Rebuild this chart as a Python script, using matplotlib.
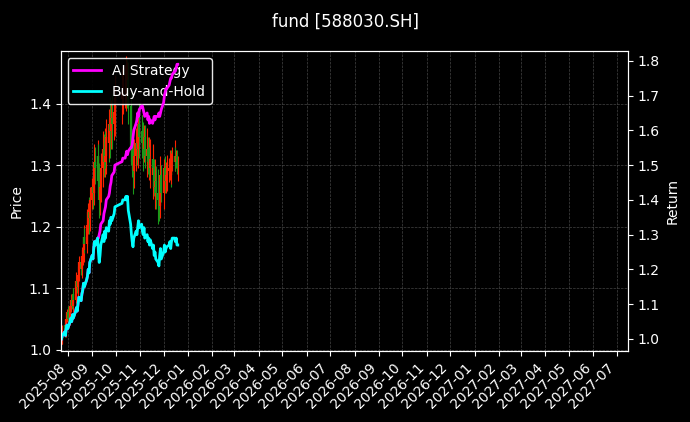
import numpy as np
import pandas as pd
import matplotlib
matplotlib.use("Agg")
import matplotlib.pyplot as plt
import matplotlib.dates as mdates

plt.style.use("dark_background")

# ----------------------------
# Data
# ----------------------------
days = pd.bdate_range("2025-07-24", "2025-12-19")
days = days[~((days >= "2025-10-01") & (days <= "2025-10-08"))]

buy_hold = [
    1.00, 1.01, 1.02, 1.01, 1.03, 1.04, 1.03, 1.05, 1.06, 1.05, 1.07, 1.06, 1.08,
    1.09, 1.08, 1.10, 1.12, 1.11, 1.13, 1.14, 1.16, 1.15, 1.17, 1.18,
    1.20, 1.19, 1.22, 1.24, 1.23, 1.26, 1.28, 1.27, 1.29,
    1.25, 1.22, 1.24,
    1.27, 1.30, 1.28, 1.31, 1.29,
    1.32, 1.31, 1.34, 1.33, 1.35, 1.34, 1.36, 1.38, 1.39,
    1.40, 1.40, 1.41, 1.40, 1.41,
    1.37, 1.33, 1.30, 1.28, 1.265,
    1.29, 1.31, 1.30, 1.32, 1.34, 1.32, 1.33,
    1.31, 1.30, 1.32, 1.29, 1.30, 1.28, 1.29, 1.27, 1.285,
    1.26, 1.27, 1.24, 1.25, 1.23, 1.22, 1.21,
    1.24, 1.26, 1.23, 1.25, 1.27, 1.25, 1.26, 1.265,
    1.27, 1.28, 1.26, 1.28, 1.29, 1.29,
    1.28, 1.29, 1.27, 1.27,
]

ai_strategy = buy_hold[:33] + [
    1.29, 1.30, 1.31, 1.33, 1.34, 1.36, 1.37, 1.38, 1.40, 1.41, 1.42, 1.44,
    1.45, 1.47, 1.48, 1.50, 1.51,
    1.52, 1.52, 1.53, 1.54, 1.53, 1.54, 1.55, 1.55, 1.56, 1.58, 1.60,
    1.62, 1.63, 1.65, 1.64, 1.66, 1.67, 1.67,
    1.66, 1.65, 1.64, 1.65, 1.63, 1.64, 1.62, 1.63, 1.62,
    1.63, 1.64, 1.63, 1.64, 1.64, 1.65, 1.64, 1.65, 1.66, 1.68,
    1.70, 1.71, 1.72, 1.72, 1.73, 1.74, 1.75, 1.75, 1.76, 1.77, 1.77, 1.78, 1.79, 1.79,
]

# daily high-low range (wick length, price units)
day_range = [
    0.02, 0.03, 0.02, 0.03, 0.04, 0.02, 0.03, 0.04, 0.03, 0.02, 0.04, 0.03, 0.03,
    0.04, 0.03, 0.05, 0.04, 0.03, 0.05, 0.04, 0.06, 0.04, 0.05, 0.06,
    0.05, 0.06, 0.07, 0.05, 0.06, 0.07, 0.08, 0.06, 0.07,
    0.08, 0.09, 0.07, 0.08, 0.09, 0.07, 0.08, 0.06, 0.09, 0.07, 0.08, 0.10,
    0.08, 0.09, 0.07, 0.10, 0.09, 0.08, 0.07, 0.09, 0.08, 0.07, 0.10,
    0.09, 0.08, 0.07, 0.09, 0.08, 0.07, 0.06, 0.08, 0.07, 0.09, 0.06,
    0.07, 0.08, 0.06, 0.07, 0.08, 0.06, 0.07, 0.05, 0.08, 0.07, 0.09,
    0.06, 0.08, 0.07, 0.09, 0.06, 0.07, 0.08, 0.06, 0.07, 0.05, 0.06,
    0.05, 0.06, 0.04, 0.05, 0.06, 0.05, 0.04, 0.05, 0.04, 0.03, 0.04, 0.04,
]

BASE_PRICE = 1.02

# ----------------------------
# Figure
# ----------------------------
close = np.array(buy_hold) * BASE_PRICE
opn = np.concatenate([[BASE_PRICE], close[:-1]])
rng = np.array(day_range)
mid = (opn + close) / 2
high = np.maximum(mid + rng / 2, np.maximum(opn, close))
low = np.minimum(mid - rng / 2, np.minimum(opn, close))
colors = np.where(close >= opn, "#ff2200", "#1a9a1a")

fig, ax = plt.subplots(figsize=(6.9, 4.22), dpi=100)
fig.patch.set_facecolor("black")
ax.set_facecolor("black")
fig.subplots_adjust(left=0.088, right=0.91, top=0.879, bottom=0.168)

ax.vlines(days, low, high, colors=colors, linewidth=0.8)
ax.vlines(days, np.minimum(opn, close), np.maximum(opn, close), colors=colors, linewidth=1.6)
ax.set_ylabel("Price")
ax.set_ylim(0.998, 1.486)
ax.grid(True, linestyle="--", linewidth=0.5, color="#555555", alpha=0.8)

ax2 = ax.twinx()
l1, = ax2.plot(days, ai_strategy, color="#ff00ff", linewidth=2, label="AI Strategy")
l2, = ax2.plot(days, buy_hold, color="#00ffff", linewidth=2, label="Buy-and-Hold")
ax2.set_ylabel("Return")
ax2.set_ylim(0.965, 1.828)
# legend on the lower axes so the return lines draw over it
ax.legend(handles=[l1, l2], loc="upper left", facecolor="black",
          edgecolor="white", framealpha=0.9)

ax.set_xlim(pd.Timestamp("2025-07-23"), pd.Timestamp("2027-07-15"))
ax.xaxis.set_major_locator(mdates.MonthLocator())
ax.xaxis.set_major_formatter(mdates.DateFormatter("%Y-%m"))
plt.setp(ax.get_xticklabels(), rotation=45, ha="right")

fig.suptitle("fund [588030.SH]", y=0.97)
fig.savefig("out.png", dpi=100, facecolor="black")
